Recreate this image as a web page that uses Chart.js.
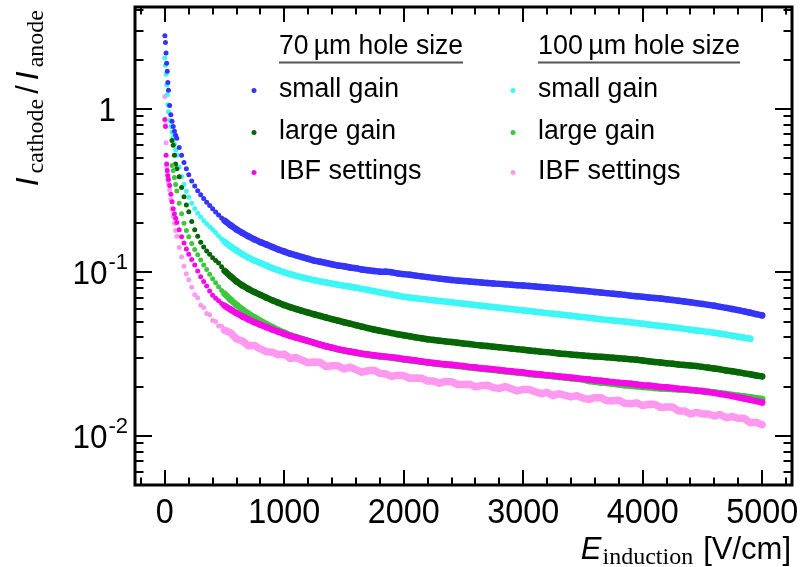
<!DOCTYPE html>
<html><head><meta charset="utf-8">
<script src="https://cdn.jsdelivr.net/npm/chart.js@4/dist/chart.umd.min.js"></script>
<style>html,body{margin:0;padding:0;background:#fff;}#wrap{width:805px;height:567px;}</style>
</head><body><div id="wrap"><canvas id="c" width="805" height="567"></canvas></div>
<script>
// Induction field E [V/cm]
const fieldValues = [0,5,10,15,20,25,30,40,50,60,70,80,90,100,120,140,160,180,200,225,250,275,300,325,350,375,400,425,450,475,500,
550,600,650,700,750,800,850,900,950,1000,
1050,1100,1150,1200,1250,1300,1350,1400,1450,1500,
1550,1600,1650,1700,1750,1800,1850,1900,1950,2000,
2050,2100,2150,2200,2250,2300,2350,2400,2450,2500,
2550,2600,2650,2700,2750,2800,2850,2900,2950,3000,
3050,3100,3150,3200,3250,3300,3350,3400,3450,3500,
3550,3600,3650,3700,3750,3800,3850,3900,3950,4000,
4050,4100,4150,4200,4250,4300,4350,4400,4450,4500,
4550,4600,4650,4700,4750,4800,4850,4900,4950,5000];

// 70 um hole size
const smallGain70 = [2.80,2.55,2.20,1.90,1.70,1.45,1.30,1.05,0.92,0.84,0.78,0.73,0.69,0.66,0.58,0.52,0.47,0.43,0.395,0.362,0.338,0.316,0.298,0.283,0.268,0.256,0.245,0.234,0.224,0.215,0.207,
0.194,0.183,0.174,0.166,0.159,0.153,0.148,0.143,0.138,0.134,
0.130,0.127,0.124,0.121,0.118,0.116,0.114,0.112,0.110,0.109,
0.107,0.106,0.104,0.103,0.102,0.101,0.101,0.100,0.0985,0.0975,
0.0966,0.0955,0.0945,0.0935,0.0925,0.0915,0.0906,0.0898,0.0890,0.0884,
0.0878,0.0872,0.0866,0.0860,0.0855,0.0850,0.0845,0.0840,0.0835,0.0830,
0.0825,0.0820,0.0813,0.0808,0.0802,0.0796,0.0790,0.0784,0.0778,0.0772,
0.0765,0.0758,0.0752,0.0746,0.0740,0.0734,0.0728,0.0720,0.0714,0.0708,
0.0702,0.0697,0.0691,0.0685,0.0678,0.0671,0.0663,0.0656,0.0648,0.0641,
0.0632,0.0624,0.0615,0.0606,0.0597,0.0587,0.0577,0.0566,0.0555,0.0545];

const largeGain70 = [null,null,null,null,null,null,null,null,null,0.64,0.60,0.52,0.46,0.43,0.385,0.33,0.29,0.258,0.235,0.205,0.182,0.166,0.153,0.143,0.135,0.129,0.123,0.118,0.114,0.108,0.102,
0.0945,0.0880,0.0830,0.0790,0.0757,0.0728,0.0700,0.0674,0.0651,0.0630,
0.0612,0.0596,0.0581,0.0567,0.0554,0.0541,0.0529,0.0517,0.0506,0.0495,
0.0485,0.0475,0.0465,0.0456,0.0447,0.0439,0.0432,0.0425,0.0418,0.0412,
0.0406,0.0400,0.0395,0.0390,0.0386,0.0382,0.0378,0.0375,0.0371,0.0367,
0.0364,0.0360,0.0357,0.0354,0.0351,0.0348,0.0345,0.0342,0.0339,0.0336,
0.0333,0.0330,0.0327,0.0325,0.0322,0.0319,0.0317,0.0314,0.0312,0.0310,
0.0308,0.0306,0.0304,0.0302,0.0300,0.0298,0.0296,0.0294,0.0292,0.0289,
0.0286,0.0283,0.0281,0.0278,0.0276,0.0273,0.0271,0.0269,0.0267,0.0264,
0.0261,0.0258,0.0255,0.0251,0.0248,0.0245,0.0241,0.0238,0.0234,0.0231];

const ibf70 = [0.86,0.78,0.52,0.46,0.42,0.39,0.37,0.34,0.30,0.27,0.245,0.228,0.214,0.202,0.182,0.165,0.151,0.139,0.129,0.120,0.111,0.102,0.094,0.088,0.0825,0.0770,0.0725,0.0695,0.0670,0.0645,0.0625,
0.0592,0.0562,0.0537,0.0515,0.0495,0.0478,0.0462,0.0447,0.0433,0.0420,
0.0408,0.0398,0.0389,0.0380,0.0370,0.0361,0.0353,0.0346,0.0339,0.0333,
0.0328,0.0323,0.0318,0.0314,0.0311,0.0308,0.0305,0.0302,0.0299,0.0295,
0.0292,0.0289,0.0285,0.0282,0.0279,0.0276,0.0274,0.0272,0.0269,0.0267,
0.0264,0.0262,0.0259,0.0257,0.0255,0.0253,0.0250,0.0248,0.0246,0.0244,
0.0241,0.0239,0.0237,0.0235,0.0233,0.0231,0.0229,0.0227,0.0225,0.0223,
0.0221,0.0219,0.0217,0.0215,0.0213,0.0211,0.0210,0.0208,0.0206,0.0204,
0.0203,0.0201,0.0199,0.0198,0.0196,0.0194,0.0193,0.0191,0.0189,0.0188,
0.0185,0.0183,0.0180,0.0178,0.0175,0.0172,0.0169,0.0166,0.0163,0.0160];

// 100 um hole size
const smallGain100 = [2.05,1.85,1.63,1.40,1.22,1.06,0.96,0.85,0.78,0.72,0.67,0.61,0.56,0.52,0.44,0.385,0.345,0.313,0.288,0.265,0.246,0.230,0.218,0.207,0.198,0.190,0.183,0.175,0.167,0.160,0.154,
0.144,0.136,0.129,0.123,0.118,0.114,0.110,0.106,0.103,0.100,
0.0975,0.0952,0.0932,0.0913,0.0896,0.0880,0.0866,0.0853,0.0840,0.0828,
0.0816,0.0804,0.0792,0.0780,0.0768,0.0756,0.0744,0.0732,0.0720,0.0708,
0.0701,0.0694,0.0688,0.0681,0.0675,0.0668,0.0662,0.0656,0.0650,0.0643,
0.0637,0.0631,0.0625,0.0619,0.0614,0.0608,0.0602,0.0596,0.0591,0.0585,
0.0580,0.0574,0.0569,0.0563,0.0558,0.0553,0.0548,0.0542,0.0537,0.0532,
0.0527,0.0522,0.0517,0.0512,0.0508,0.0504,0.0500,0.0495,0.0490,0.0485,
0.0480,0.0475,0.0470,0.0466,0.0461,0.0456,0.0451,0.0446,0.0441,0.0437,
0.0432,0.0427,0.0421,0.0416,0.0410,0.0404,0.0398,0.0392,null,null];

const largeGain100 = [null,null,null,null,null,null,null,null,null,0.45,0.42,0.38,0.345,0.315,0.265,0.228,0.200,0.180,0.165,0.150,0.138,0.128,0.119,0.111,0.104,0.0975,0.0915,0.0865,0.0815,0.0775,0.0740,
0.0680,0.0632,0.0592,0.0558,0.0530,0.0505,0.0482,0.0462,0.0443,0.0427,
0.0412,0.0401,0.0391,0.0381,0.0371,0.0361,0.0352,0.0345,0.0338,0.0332,
0.0326,0.0321,0.0317,0.0313,0.0309,0.0306,0.0303,0.0300,0.0297,0.0293,
0.0290,0.0287,0.0284,0.0281,0.0278,0.0275,0.0272,0.0270,0.0267,0.0265,
0.0262,0.0260,0.0257,0.0255,0.0253,0.0250,0.0248,0.0246,0.0244,0.0242,
0.0239,0.0237,0.0235,0.0233,0.0231,0.0229,0.0227,0.0225,0.0223,0.0221,
0.0216,0.0214,0.0212,0.0210,0.0208,0.0206,0.0204,0.0202,0.0201,0.0199,
0.0198,0.0196,0.0195,0.0194,0.0193,0.0192,0.0191,0.0190,0.0189,0.0187,
0.0186,0.0184,0.0182,0.0180,0.0178,0.0176,0.0174,0.0172,0.0170,0.0168];

const ibf100 = [1.19,0.80,0.62,0.44,0.40,0.37,0.35,0.32,0.28,0.245,0.22,0.20,0.18,0.166,0.142,0.124,0.109,0.098,0.090,0.081,0.073,0.070,0.063,0.061,0.056,0.055,0.0508,0.0500,0.0470,0.0468,0.0442,
0.0426,0.0391,0.0380,0.0355,0.0357,0.0340,0.0327,0.0325,0.0313,0.0316,
0.0297,0.0301,0.0290,0.0280,0.0283,0.0281,0.0265,0.0268,0.0268,0.0257,
0.0263,0.0254,0.0245,0.0250,0.0252,0.0241,0.0239,0.0231,0.0235,0.0233,
0.0225,0.0226,0.0225,0.0216,0.0216,0.0210,0.0215,0.0214,0.0206,0.0206,
0.0207,0.0199,0.0203,0.0204,0.0197,0.0195,0.0200,0.0194,0.0188,0.0192,
0.0192,0.0186,0.0181,0.0184,0.0176,0.0181,0.0177,0.0173,0.0176,0.0170,
0.0167,0.0171,0.0171,0.0164,0.0164,0.0165,0.0158,0.0157,0.0159,0.0153,
0.0156,0.0156,0.0149,0.0150,0.0150,0.0142,0.0142,0.0136,0.0139,0.0136,
0.0136,0.0132,0.0135,0.0129,0.0131,0.0128,0.0128,0.0120,0.0121,0.0117];

const seriesLabels = ['small gain','large gain','IBF settings'];
const groupHeaders = ['70\u2009\u00b5m hole size','100\u2009\u00b5m hole size'];
const xTickLabels = ['0','1000','2000','3000','4000','5000'];

const colors = {
  sg70:'#3535f8', lg70:'#066606', ibf70:'#f50ae6',
  sg100:'#3ef6f6', lg100:'#3cc83c', ibf100:'#ff99f0'
};

function pts(arr){ return fieldValues.map((x,i)=>arr[i]==null?null:{x:x,y:arr[i]}).filter(p=>p); }
function radiusFor(c){ return (c.raw && c.raw.x < 520) ? 2.5 : 3.2; }
function ds(label, arr, color, order, width){
  return {label:label, data:pts(arr), backgroundColor:color, borderColor:color, borderWidth:width,
    borderCapStyle:'round', borderJoinStyle:'round', tension:0,
    segment:{borderColor:(s)=> s.p0.parsed.x >= 500 ? color : 'rgba(0,0,0,0)'},
    pointRadius:radiusFor, pointBorderWidth:0, pointHoverRadius:radiusFor, showLine:true, order:order};
}

const SANS = '"Liberation Sans", Arial, Helvetica, sans-serif';
const SERIF = '"Liberation Serif", "Times New Roman", serif';

function richWidth(ctx, parts){ let w=0; for(const p of parts){ctx.font=p.font; w+=ctx.measureText(p.t).width+(p.gap||0);} return w; }
function drawRich(ctx, parts, x, y){ let cx=x; for(const p of parts){ctx.font=p.font; ctx.fillText(p.t,cx,y+(p.dy||0)); cx+=ctx.measureText(p.t).width+(p.gap||0);} }

const decorPlugin = {
  id:'decor',
  afterDatasetsDraw(chart){
    const ctx=chart.ctx, a=chart.chartArea, xs=chart.scales.x, ys=chart.scales.y;
    ctx.save();
    ctx.strokeStyle='#000'; ctx.fillStyle='#000';
    // ticks
    ctx.lineWidth=2;
    ctx.beginPath();
    for(let v=-200; v<=5200; v+=200){
      const px=Math.round(xs.getPixelForValue(v));
      const len=(v%1000===0)?15:7.5;
      ctx.moveTo(px,a.bottom); ctx.lineTo(px,a.bottom-len);
      ctx.moveTo(px,a.top); ctx.lineTo(px,a.top+len);
    }
    for(let e=-3;e<=0;e++){
      for(let m=1;m<=9;m++){
        const v=m*Math.pow(10,e);
        if(v<ys.min*0.999||v>ys.max) continue;
        const py=Math.round(ys.getPixelForValue(v));
        const len=(m===1)?17:8.5;
        ctx.moveTo(a.left,py); ctx.lineTo(a.left+len,py);
        ctx.moveTo(a.right,py); ctx.lineTo(a.right-len,py);
      }
    }
    ctx.stroke();
    // frame
    ctx.lineWidth=3;
    ctx.strokeRect(a.left,a.top,a.right-a.left,a.bottom-a.top);
    // x tick labels
    ctx.font='35px '+SANS; ctx.textAlign='center'; ctx.textBaseline='alphabetic';
    xTickLabels.forEach(t=>{ ctx.fillText(t, xs.getPixelForValue(Number(t)), 523, t.length*18); });
    // y tick labels
    ctx.textAlign='left';
    const yl=[{v:1,base:'1',sup:''},{v:0.1,base:'10',sup:'-1'},{v:0.01,base:'10',sup:'-2'}];
    yl.forEach(o=>{
      const py=ys.getPixelForValue(o.v);
      ctx.font='22px '+SANS; const ws=o.sup?ctx.measureText(o.sup).width:0;
      ctx.font='33px '+SANS; const wb=Math.min(ctx.measureText(o.base).width, o.base.length*17.5);
      const right = o.sup?128:116;
      ctx.fillText(o.base, right-ws-wb-(o.sup?1:0), py+12, o.base.length*17.5);
      if(o.sup){ ctx.font='22px '+SANS; ctx.fillText(o.sup, right-ws, py-3); }
    });
    // x title
    const xt=[{t:'E',font:'italic 31px '+SANS,gap:1},{t:'induction',font:'24px '+SERIF,dy:5,gap:10},{t:'[V/cm]',font:'31px '+SANS}];
    const xw=richWidth(ctx,xt);
    drawRich(ctx,xt,791-xw,559);
    // y title (rotated)
    const yt=[{t:'I',font:'italic 32px '+SANS,gap:4},{t:'cathode',font:'24px '+SERIF,dy:5,gap:5},{t:'/',font:'31px '+SANS,gap:5},{t:'I',font:'italic 32px '+SANS,gap:4},{t:'anode',font:'24px '+SERIF,dy:5}];
    const yw=richWidth(ctx,yt);
    ctx.save(); ctx.translate(38, 10+yw); ctx.rotate(-Math.PI/2);
    drawRich(ctx,yt,0,0); ctx.restore();
    // legend
    const cols=[{x:279,mx:254,hw:184,keys:['sg70','lg70','ibf70']},{x:538,mx:513,hw:202,keys:['sg100','lg100','ibf100']}];
    const widths=[120,117,146];
    const rowsY=[97,139,179];
    cols.forEach((c,ci)=>{
      ctx.fillStyle='#000'; ctx.font='27px '+SANS; ctx.textAlign='left';
      ctx.fillText(groupHeaders[ci], c.x, 54, c.hw);
      ctx.strokeStyle='#555'; ctx.lineWidth=2;
      ctx.beginPath(); ctx.moveTo(c.x,62.5); ctx.lineTo(c.x+c.hw,62.5); ctx.stroke();
      seriesLabels.forEach((lab,ri)=>{
        ctx.fillStyle='#000'; ctx.font='27px '+SANS;
        ctx.fillText(lab, c.x, rowsY[ri], widths[ri]);
        ctx.fillStyle=colors[c.keys[ri]];
        ctx.beginPath(); ctx.arc(c.mx, rowsY[ri]-6.5, 2.5, 0, Math.PI*2); ctx.fill();
      });
    });
    ctx.restore();
  }
};

new Chart(document.getElementById('c'), {
  type:'scatter',
  data:{datasets:[
    ds('70 \u00b5m small gain', smallGain70, colors.sg70, 4, 6.5),
    ds('70 \u00b5m large gain', largeGain70, colors.lg70, 3, 6.5),
    ds('70 \u00b5m IBF settings', ibf70, colors.ibf70, 1, 6.5),
    ds('100 \u00b5m small gain', smallGain100, colors.sg100, 5, 6.5),
    ds('100 \u00b5m large gain', largeGain100, colors.lg100, 2, 6.5),
    ds('100 \u00b5m IBF settings', ibf100, colors.ibf100, 6, 7.5)
  ]},
  options:{
    responsive:false, animation:false, devicePixelRatio:1,
    layout:{padding:{left:135,right:13,top:7,bottom:82}},
    plugins:{legend:{display:false},tooltip:{enabled:false}},
    scales:{
      x:{type:'linear',min:-250,max:5250,display:false},
      y:{type:'logarithmic',min:0.005,max:4.2,display:false}
    }
  },
  plugins:[decorPlugin]
});
</script>
</body></html>
